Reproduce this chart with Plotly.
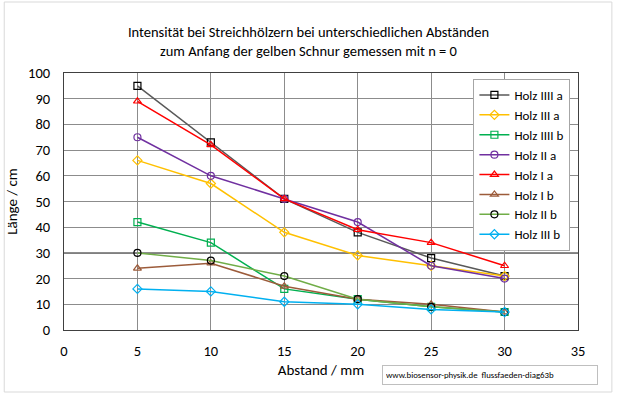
import plotly.graph_objects as go

x_vals = [5, 10, 15, 20, 25, 30]
series_names = ["Holz IIII a", "Holz III a", "Holz IIII b", "Holz II a",
                "Holz I a", "Holz I b", "Holz II b", "Holz III b"]
holz_4a = [95, 73, 51, 38, 28, 21]
holz_3a = [66, 57, 38, 29, 25, 21]
holz_4b = [42, 34, 16, 12, 9, 7]
holz_2a = [75, 60, 51, 42, 25, 20]
holz_1a = [89, 72, 51, 39, 34, 25]
holz_1b = [24, 26, 17, 12, 10, 7]
holz_2b = [30, 27, 21, 12, 9, 7]
holz_3b = [16, 15, 11, 10, 8, 7]
values = [holz_4a, holz_3a, holz_4b, holz_2a, holz_1a, holz_1b, holz_2b, holz_3b]

line_colors = ["#595959", "#FFC000", "#00B050", "#7030A0", "#FF0000", "#9C5B3A", "#70AD47", "#00B0F0"]
marker_colors = ["#000000", "#FFC000", "#00B050", "#7030A0", "#FF0000", "#9C5B3A", "#000000", "#00B0F0"]
symbols = ["square-open", "diamond-open", "square-open", "circle-open",
           "triangle-up-open", "triangle-up-open", "circle-open", "diamond-open"]

FONT = "Carlito, Lato, Liberation Sans, Arial, sans-serif"

fig = go.Figure()
for name, ys, lc, mc, sym in zip(series_names, values, line_colors, marker_colors, symbols):
    fig.add_trace(go.Scatter(
        x=x_vals, y=ys, name=name, mode="lines+markers",
        line=dict(color=lc, width=1.5),
        marker=dict(symbol=sym, color=mc, size=7, line=dict(color=mc, width=1.2)),
    ))

L, R, T, B = 62, 578, 73, 330
W, H = 617, 400
pw, ph = R - L, B - T

def px(xp):
    return (xp - L) / pw

def py(yp):
    return (B - yp) / ph

fig.update_layout(
    width=W, height=H,
    margin=dict(l=L, r=W - R, t=T, b=H - B),
    paper_bgcolor="white", plot_bgcolor="white",
    font=dict(family=FONT, size=14, color="#000000"),
    title=dict(
        text="Intensität bei Streichhölzern bei unterschiedlichen Abständen<br>zum Anfang der gelben Schnur gemessen mit n = 0",
        x=0.5, xanchor="center", y=1 - 37 / H, yanchor="middle",
        font=dict(family=FONT, size=14.5),
    ),
    xaxis=dict(
        range=[0, 35], dtick=5, tick0=0, showgrid=True, gridcolor="#8c8c8c", gridwidth=1,
        zeroline=False, showline=True, linecolor="#404040", mirror=True,
        ticks="", ticklen=0, ticklabelstandoff=8,
        title=dict(text="Abstand / mm", font=dict(size=15), standoff=5),
        tickfont=dict(size=14.5),
    ),
    yaxis=dict(
        range=[0, 100], dtick=10, tick0=0, showgrid=True, gridcolor="#8c8c8c", gridwidth=1,
        zeroline=False, showline=True, linecolor="#404040", mirror=True,
        ticks="", ticklen=0, ticklabelstandoff=10,
        title=dict(text="Länge / cm", font=dict(size=15), standoff=6),
        tickfont=dict(size=14.5),
    ),
    legend=dict(
        x=px(473), y=py(79), xanchor="left", yanchor="top",
        bgcolor="white", bordercolor="#a6a6a6", borderwidth=1,
        font=dict(family=FONT, size=13), tracegroupgap=0, itemwidth=30,
    ),
    showlegend=True,
)

# highlighted gridline at 30
fig.add_shape(type="line", xref="paper", yref="y", x0=0, x1=1, y0=30, y1=30,
              line=dict(color="#000000", width=1.2), layer="below")

# outer chart frame
fig.add_shape(type="rect", xref="paper", yref="paper",
              x0=px(2), x1=px(612), y0=py(392), y1=py(2),
              line=dict(color="#d9d9d9", width=1))

# watermark box
fig.add_annotation(
    xref="paper", yref="paper", x=px(490), y=py(375), xanchor="center", yanchor="middle",
    text="www.biosensor-physik.de  flussfaeden-diag63b", showarrow=False,
    font=dict(family=FONT, size=8.8, color="#000000"),
    bordercolor="#bfbfbf", borderwidth=1, borderpad=3, bgcolor="white",
    width=208, height=12, align="left",
)

fig.write_html("out.html")
